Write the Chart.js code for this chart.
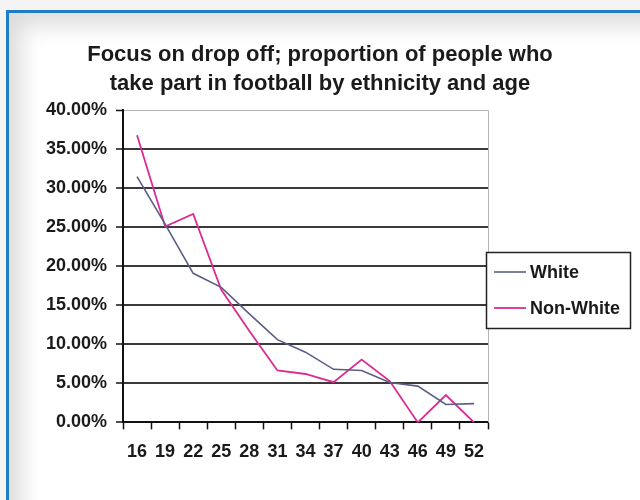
<!DOCTYPE html>
<html>
<head>
<meta charset="utf-8">
<script src="https://cdn.jsdelivr.net/npm/chart.js@4.4.1/dist/chart.umd.min.js"></script>
<style>
  html, body { margin: 0; padding: 0; width: 640px; height: 500px; overflow: hidden; background: #f4f4f4; }
  .frame {
    position: absolute; left: 6px; top: 10px; width: 660px; height: 510px;
    border-top: 3px solid #1f7cc9; border-left: 3px solid #1f7cc9;
    background: #ffffff;
    box-shadow: inset 12px 12px 22px rgba(0, 0, 0, 0.14);
  }
  #wrap { position: absolute; left: 0; top: 0; width: 640px; height: 500px; }
</style>
</head>
<body>
<div class="frame"></div>
<div id="wrap"><canvas id="chart1"></canvas></div>
<script>
// ages along the x axis
const ages = ['16', '19', '22', '25', '28', '31', '34', '37', '40', '43', '46', '49', '52'];
// participation, percent
const white = [31.5, 25.4, 19.1, 17.3, 13.9, 10.6, 9.0, 6.8, 6.65, 5.1, 4.65, 2.3, 2.4];
const nonWhite = [36.8, 25.1, 26.7, 17.0, 11.7, 6.65, 6.2, 5.15, 8.05, 5.3, 0, 3.5, 0];
const titleLines = ['Focus on drop off; proportion of people who', 'take part in football by ethnicity and age'];

const FONT = '"Liberation Sans", Arial, sans-serif';

// light frame on the right of the plot area
const plotFrame = {
    id: 'plotFrame',
    beforeDatasetsDraw(chart) {
        const { ctx, chartArea: a } = chart;
        ctx.save();
        ctx.strokeStyle = '#b4b4b4';
        ctx.lineWidth = 1;
        ctx.beginPath();
        ctx.moveTo(a.right + 0.5, a.top);
        ctx.lineTo(a.right + 0.5, a.bottom);
        ctx.stroke();
        ctx.restore();
    }
};

// boxed legend to the right of the plot
const boxLegend = {
    id: 'boxLegend',
    afterDraw(chart) {
        const { ctx } = chart;
        const x = 486, y = 252, w = 144, h = 76;
        ctx.save();
        ctx.fillStyle = '#ffffff';
        ctx.fillRect(x, y, w, h);
        ctx.strokeStyle = '#222';
        ctx.lineWidth = 1.5;
        ctx.strokeRect(x + 0.5, y + 0.5, w, h);
        ctx.font = 'bold 18px ' + FONT;
        ctx.textBaseline = 'middle';
        chart.data.datasets.forEach((ds, i) => {
            const ly = y + 20 + i * 36;
            ctx.strokeStyle = ds.borderColor;
            ctx.lineWidth = ds.borderWidth;
            ctx.beginPath();
            ctx.moveTo(x + 8, ly);
            ctx.lineTo(x + 40, ly);
            ctx.stroke();
            ctx.fillStyle = '#1a1a1a';
            ctx.fillText(ds.label, x + 44, ly + 1);
        });
        ctx.restore();
    }
};

document.addEventListener("DOMContentLoaded", () => {
    const ctx1 = document.getElementById('chart1').getContext('2d');

    const chart1 = new Chart(ctx1, {
        type: 'line',
        data: {
            labels: ages,
            datasets: [{
                label: 'White',
                data: white,
                borderColor: '#5b5d86',
                borderWidth: 1.6,
                pointRadius: 0,
                tension: 0
            }, {
                label: 'Non-White',
                data: nonWhite,
                borderColor: '#dc2a93',
                borderWidth: 1.8,
                pointRadius: 0,
                tension: 0
            }]
        },
        options: {
            responsive: true,
            maintainAspectRatio: false,
            animation: false,
            layout: { padding: { left: 0, right: 0, top: 0, bottom: 25 } },
            plugins: {
                legend: { display: false },
                tooltip: { enabled: false },
                title: {
                    display: true,
                    text: titleLines,
                    color: '#1b1b1b',
                    font: { family: FONT, size: 22, weight: 'bold', lineHeight: 1.3 },
                    padding: { top: 41, bottom: 12 }
                }
            },
            scales: {
                x: {
                    offset: true,
                    grid: {
                        offset: true,
                        drawOnChartArea: false,
                        drawTicks: true,
                        tickLength: 7,
                        tickColor: '#111',
                        tickWidth: 1.5
                    },
                    border: { color: '#111', width: 2 },
                    ticks: {
                        color: '#1a1a1a',
                        padding: 12,
                        maxRotation: 0,
                        autoSkip: false,
                        font: { family: FONT, size: 18, weight: 'bold' }
                    }
                },
                y: {
                    min: 0,
                    max: 40,
                    afterFit(scale) { scale.width = 123; },
                    grid: {
                        color: c => c.tick && c.tick.value === 40 ? '#b4b4b4' : '#3a3a3a',
                        lineWidth: c => c.tick && c.tick.value === 40 ? 1 : 2,
                        tickColor: '#111',
                        tickWidth: 1.5,
                        tickLength: 7
                    },
                    border: { color: '#111', width: 2 },
                    ticks: {
                        stepSize: 5,
                        padding: 9,
                        color: '#1a1a1a',
                        font: { family: FONT, size: 18, weight: 'bold' },
                        callback: v => v.toFixed(2) + '%'
                    }
                },
                // empty axis on the right keeps room for the legend box
                side: {
                    position: 'right',
                    afterFit(scale) { scale.width = 152; },
                    grid: { display: false },
                    border: { display: false },
                    ticks: { display: false }
                }
            }
        },
        plugins: [plotFrame, boxLegend]
    });
});
</script>
</body>
</html>
